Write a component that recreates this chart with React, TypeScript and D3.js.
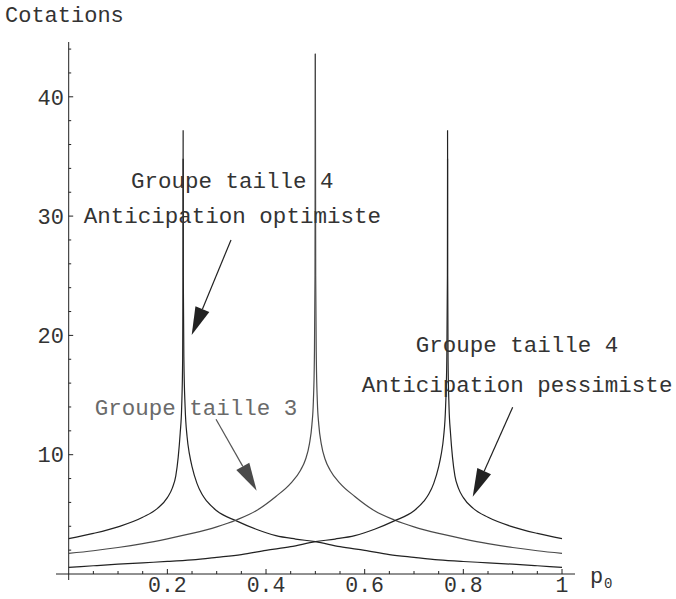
import React from "react";
import * as d3 from "d3";

// Groupe taille 4, anticipation optimiste (peak near p0 = 0.232)
const pA_left = [0, 0.05, 0.1, 0.15, 0.18, 0.2, 0.21, 0.217, 0.222, 0.226, 0.229, 0.231, 0.2317, 0.232];
const vA_left = [2.96, 3.4, 3.95, 4.75, 5.5, 6.4, 7.2, 8.2, 9.8, 11.8, 14, 18, 25, 37.2];
const pA_right = [0.232, 0.2323, 0.2335, 0.236, 0.24, 0.245, 0.25, 0.26, 0.27, 0.28, 0.3, 0.34, 0.38, 0.42, 0.46, 0.5, 0.55, 0.6, 0.65, 0.7, 0.75, 0.8, 0.85, 0.9, 0.95, 1];
const vA_right = [34.8, 25, 18, 14, 11.5, 10, 9.0, 7.6, 6.7, 6.1, 5.3, 4.45, 3.75, 3.22, 2.93, 2.71, 2.29, 1.98, 1.63, 1.4, 1.19, 1.05, 0.94, 0.82, 0.69, 0.56];

// Groupe taille 3 (peak at p0 = 0.5)
const pB_left = [0, 0.05, 0.1, 0.15, 0.2, 0.25, 0.3, 0.34, 0.38, 0.42, 0.45, 0.47, 0.48, 0.488, 0.493, 0.496, 0.498, 0.4993, 0.5];
const vB_left = [1.73, 1.95, 2.22, 2.55, 2.95, 3.4, 3.95, 4.53, 5.3, 6.5, 7.6, 8.7, 9.6, 10.9, 12.5, 14.5, 18, 25, 43.6];
const pB_right = [0.5, 0.5007, 0.502, 0.504, 0.507, 0.512, 0.52, 0.53, 0.55, 0.58, 0.62, 0.66, 0.7, 0.75, 0.8, 0.85, 0.9, 0.95, 1];
const vB_right = [43.6, 25, 18, 14.5, 12.5, 10.9, 9.6, 8.7, 7.6, 6.5, 5.3, 4.53, 3.95, 3.4, 2.95, 2.55, 2.22, 1.95, 1.73];

// Groupe taille 4, anticipation pessimiste (peak near p0 = 0.768)
const pC_left = [0, 0.05, 0.1, 0.15, 0.2, 0.25, 0.3, 0.35, 0.4, 0.45, 0.5, 0.54, 0.58, 0.62, 0.66, 0.7, 0.72, 0.73, 0.74, 0.75, 0.755, 0.76, 0.764, 0.7665, 0.7677, 0.768];
const vC_left = [0.56, 0.69, 0.82, 0.94, 1.05, 1.19, 1.4, 1.63, 1.98, 2.29, 2.71, 2.93, 3.22, 3.75, 4.45, 5.3, 6.1, 6.7, 7.6, 9.0, 10, 11.5, 14, 18, 25, 34.8];
const pC_right = [0.768, 0.7683, 0.769, 0.771, 0.774, 0.778, 0.783, 0.79, 0.8, 0.82, 0.85, 0.9, 0.95, 1];
const vC_right = [37.2, 25, 18, 14, 11.8, 9.8, 8.2, 7.2, 6.4, 5.5, 4.75, 3.95, 3.4, 2.96];

const xMajorTicks = [0.2, 0.4, 0.6, 0.8, 1];
const xTickLabels = ["0.2", "0.4", "0.6", "0.8", "1"];
const yMajorTicks = [10, 20, 30, 40];
const yTickLabels = ["10", "20", "30", "40"];

const yLabel = "Cotations";
const annotations = [
  { lines: ["Groupe taille 4", "Anticipation optimiste"], p: 0.3318, v: [32.35, 29.42], color: "#333" },
  { lines: ["Groupe taille 4", "Anticipation pessimiste"], p: 0.909, v: [18.6, 15.26], color: "#333" },
  { lines: ["Groupe taille 3"], p: 0.258, v: [13.33], color: "#6a6a6a" },
];
const arrows = [
  { from: [0.329, 28.0], to: [0.2493, 20.03], line: "#222", head: "#222" },
  { from: [0.2986, 12.97], to: [0.381, 6.98], line: "#555", head: "#4a4a4a" },
  { from: [0.9, 13.97], to: [0.819, 6.48], line: "#222", head: "#222" },
];

const W = 676;
const H = 599;
const FONT = "'Liberation Mono', 'Courier New', monospace";

export default function App() {
  const x = d3.scaleLinear().domain([0, 1]).range([68.7, 562]);
  const y = d3.scaleLinear().domain([0, 10]).range([574, 454.7]);

  const line = d3
    .line<[number, number]>()
    .x((d) => x(d[0]))
    .y((d) => y(d[1]))
    .curve(d3.curveMonotoneX);

  const zip = (ps: number[], vs: number[]) => ps.map((p, i) => [p, vs[i]] as [number, number]);

  const curves = [
    { d: zip(pA_left, vA_left), c: "#222" },
    { d: zip(pA_right, vA_right), c: "#222" },
    { d: zip(pB_left, vB_left), c: "#4a4a4a" },
    { d: zip(pB_right, vB_right), c: "#4a4a4a" },
    { d: zip(pC_left, vC_left), c: "#222" },
    { d: zip(pC_right, vC_right), c: "#222" },
  ];

  const xMinor = d3.range(1, 20).map((i) => i * 0.05).filter((t) => Math.abs(t * 5 - Math.round(t * 5)) > 1e-6);
  const yMinor = d3.range(1, 23).map((i) => i * 2).filter((t) => t % 10 !== 0);

  const x0 = x(0);
  const yAxis0 = y(0);

  const arrowEls = arrows.map((a, i) => {
    const x1 = x(a.from[0]);
    const y1 = y(a.from[1]);
    const x2 = x(a.to[0]);
    const y2 = y(a.to[1]);
    const dx = x2 - x1;
    const dy = y2 - y1;
    const len = Math.hypot(dx, dy);
    const ux = dx / len;
    const uy = dy / len;
    const hl = 28;
    const hw = 7.5;
    const bx = x2 - ux * hl;
    const by = y2 - uy * hl;
    const pts = [
      [x2, y2],
      [bx - uy * hw, by + ux * hw],
      [bx + uy * hw, by - ux * hw],
    ];
    return (
      <g key={i}>
        <line x1={x1} y1={y1} x2={bx} y2={by} stroke={a.line} strokeWidth={1.2} />
        <polygon points={pts.map((p) => p.join(",")).join(" ")} fill={a.head} />
      </g>
    );
  });

  return (
    <svg
      width={W}
      height={H}
      style={{ position: "absolute", left: 0, top: 0, background: "#fff" }}
      fontFamily={FONT}
    >
      <rect width={W} height={H} fill="#fff" />
      {/* axes */}
      <line x1={56} y1={yAxis0} x2={575} y2={yAxis0} stroke="#222" strokeWidth={1} />
      <line x1={x0} y1={42} x2={x0} y2={580} stroke="#222" strokeWidth={1} />
      {xMajorTicks.map((t) => (
        <line key={"xM" + t} x1={x(t)} x2={x(t)} y1={yAxis0} y2={yAxis0 - 5} stroke="#222" />
      ))}
      {xMinor.map((t) => (
        <line key={"xm" + t} x1={x(t)} x2={x(t)} y1={yAxis0} y2={yAxis0 - 3} stroke="#222" />
      ))}
      {yMajorTicks.map((t) => (
        <line key={"yM" + t} x1={x0} x2={x0 + 4.5} y1={y(t)} y2={y(t)} stroke="#222" />
      ))}
      {yMinor.map((t) => (
        <line key={"ym" + t} x1={x0} x2={x0 + 2.5} y1={y(t)} y2={y(t)} stroke="#222" />
      ))}
      {xMajorTicks.map((t, i) => (
        <text key={"xl" + t} x={x(t)} y={592} textAnchor="middle" fontSize={21.5} fill="#333">
          {xTickLabels[i]}
        </text>
      ))}
      {yMajorTicks.map((t, i) => (
        <text key={"yl" + t} x={64} y={y(t)} dy="0.35em" textAnchor="end" fontSize={22} fill="#333">
          {yTickLabels[i]}
        </text>
      ))}
      <text x={5} y={22} fontSize={22} fill="#333">{yLabel}</text>
      <text x={590} y={583} fontSize={22} fill="#333">p</text>
      <text x={604} y={588} fontSize={14} fill="#333">0</text>

      {/* curves */}
      {curves.map((c, i) => (
        <path key={i} d={line(c.d) || ""} fill="none" stroke={c.c} strokeWidth={1.2} />
      ))}

      {/* annotations */}
      {annotations.map((a, i) =>
        a.lines.map((t, j) => (
          <text key={i + "-" + j} x={x(a.p)} y={y(a.v[j])} textAnchor="middle" fontSize={22.5} fill={a.color}>
            {t}
          </text>
        ))
      )}
      {arrowEls}
    </svg>
  );
}
